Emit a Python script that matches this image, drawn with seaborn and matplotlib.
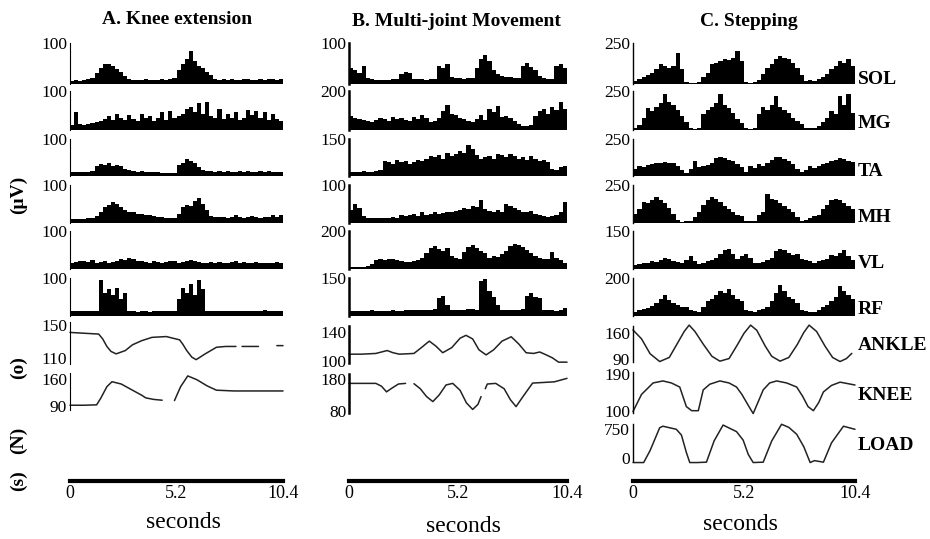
import numpy as np
import matplotlib.pyplot as plt
import seaborn as sns

sns.set_theme(style="white")
plt.rcParams['font.family'] = ['Liberation Serif', 'DejaVu Serif']

W, H = 930, 539

# EMG histograms: 52 bins of 0.2 s over 10.4 s, values in uV
bin_t = np.arange(52) * 0.2 + 0.1

muscles = ['SOL', 'MG', 'TA', 'MH', 'VL', 'RF']

a_sol = [8, 9, 8, 10, 11, 14, 28, 40, 48, 50, 44, 36, 30, 20, 12, 10, 9, 10, 11, 10, 9, 10, 12, 10, 11, 14,
         35, 50, 62, 80, 55, 45, 38, 30, 22, 12, 10, 11, 9, 12, 10, 10, 11, 12, 10, 9, 11, 10, 12, 11, 10, 13]
a_mg = [14, 45, 15, 13, 16, 18, 20, 22, 28, 35, 26, 40, 30, 25, 38, 28, 22, 42, 30, 35, 24, 30, 45, 26, 48, 30,
        35, 40, 55, 60, 45, 70, 40, 72, 35, 30, 55, 28, 40, 32, 45, 26, 30, 50, 38, 48, 30, 45, 25, 40, 28, 22]
a_ta = [10, 10, 11, 12, 11, 13, 28, 32, 30, 34, 28, 30, 26, 18, 16, 14, 12, 13, 11, 10, 10, 10, 8, 8, 8, 9,
        30, 36, 45, 40, 35, 25, 16, 14, 13, 12, 14, 12, 13, 11, 12, 14, 12, 13, 12, 11, 13, 12, 14, 12, 11, 12]
a_mh = [10, 11, 10, 11, 12, 14, 18, 30, 42, 48, 55, 50, 42, 35, 30, 28, 25, 24, 22, 20, 18, 17, 15, 14, 12, 13,
        25, 42, 48, 45, 58, 67, 50, 35, 18, 16, 15, 17, 14, 16, 20, 15, 14, 16, 18, 15, 14, 17, 15, 20, 16, 22]
a_vl = [15, 18, 22, 20, 18, 24, 16, 18, 20, 17, 19, 22, 26, 24, 28, 25, 22, 20, 18, 17, 20, 18, 16, 18, 22, 20,
        17, 18, 20, 24, 22, 18, 16, 17, 19, 16, 18, 17, 15, 18, 20, 16, 18, 17, 15, 18, 16, 15, 17, 16, 18, 17]
a_rf = [12, 13, 12, 14, 13, 12, 14, 95, 60, 70, 55, 75, 45, 60, 14, 12, 11, 13, 12, 11, 12, 13, 14, 12, 13, 12,
        45, 75, 60, 85, 55, 95, 70, 14, 13, 12, 13, 12, 14, 13, 12, 13, 12, 13, 12, 14, 12, 15, 13, 14, 12, 13]

b_sol = [40, 35, 28, 45, 15, 12, 10, 10, 9, 10, 11, 12, 25, 30, 28, 12, 11, 12, 10, 11, 12, 45, 40, 50, 18, 15,
         14, 13, 14, 15, 40, 60, 70, 55, 35, 25, 20, 18, 16, 15, 14, 45, 52, 42, 35, 20, 15, 12, 11, 45, 50, 40]
b_mg = [70, 60, 55, 50, 45, 40, 50, 60, 55, 45, 65, 55, 60, 50, 45, 65, 55, 75, 60, 40, 45, 60, 95, 130, 80, 75,
        60, 55, 45, 40, 55, 75, 50, 110, 90, 125, 65, 70, 60, 45, 30, 20, 18, 25, 70, 95, 110, 80, 120, 100, 145, 110]
b_ta = [15, 18, 15, 20, 16, 18, 20, 25, 60, 55, 50, 65, 55, 60, 50, 55, 65, 60, 70, 80, 75, 85, 70, 95, 80, 90,
        100, 95, 125, 110, 85, 70, 75, 80, 70, 90, 85, 75, 90, 80, 70, 75, 65, 80, 70, 60, 65, 55, 30, 25, 35, 40]
b_mh = [35, 50, 40, 18, 14, 12, 13, 12, 14, 13, 15, 14, 22, 18, 20, 25, 18, 30, 22, 25, 28, 24, 26, 30, 28, 32,
        35, 40, 38, 45, 42, 60, 38, 32, 28, 35, 30, 50, 45, 40, 35, 30, 28, 32, 25, 22, 18, 16, 18, 22, 30, 55]
b_vl = [8, 10, 9, 12, 15, 25, 45, 50, 48, 55, 50, 45, 40, 38, 35, 40, 45, 60, 85, 110, 120, 105, 95, 110, 70, 60,
        55, 90, 115, 125, 110, 95, 85, 60, 70, 65, 80, 95, 120, 130, 125, 115, 100, 85, 70, 60, 55, 50, 90, 60, 45, 30]
b_rf = [18, 20, 19, 21, 20, 22, 19, 20, 21, 20, 22, 20, 21, 23, 22, 24, 22, 25, 24, 23, 28, 70, 80, 45, 25, 22,
        24, 22, 26, 28, 25, 140, 145, 100, 75, 45, 25, 22, 24, 25, 23, 26, 80, 90, 75, 70, 25, 22, 24, 20, 22, 30]

c_sol = [20, 30, 40, 55, 70, 90, 120, 110, 100, 110, 190, 90, 10, 8, 8, 12, 45, 70, 120, 130, 140, 150, 145, 160,
         200, 140, 10, 8, 10, 25, 60, 100, 120, 150, 170, 160, 150, 130, 100, 55, 20, 25, 20, 30, 45, 60, 90, 110,
         140, 130, 150, 110]
c_mg = [15, 30, 80, 140, 120, 150, 170, 230, 180, 160, 130, 90, 50, 10, 8, 10, 100, 130, 150, 170, 230, 160, 140,
        110, 70, 45, 10, 8, 12, 100, 150, 130, 160, 220, 150, 130, 110, 80, 60, 40, 12, 10, 15, 25, 50, 80, 120, 100,
        220, 160, 230, 110]
c_ta = [50, 70, 60, 75, 80, 85, 90, 95, 90, 85, 70, 40, 20, 45, 100, 60, 70, 75, 90, 120, 130, 120, 110, 100, 80,
        60, 30, 70, 55, 80, 70, 90, 110, 125, 130, 115, 100, 80, 50, 30, 40, 70, 55, 65, 80, 90, 100, 110, 120, 115,
        100, 95]
c_mh = [60, 90, 140, 130, 150, 170, 150, 130, 100, 60, 20, 8, 10, 15, 40, 70, 120, 150, 170, 160, 140, 110, 90, 70,
        55, 45, 15, 10, 12, 50, 70, 190, 160, 150, 130, 110, 90, 70, 40, 15, 20, 30, 45, 55, 90, 120, 150, 160, 150,
        130, 110, 90]
c_vl = [15, 20, 25, 22, 30, 28, 35, 45, 40, 30, 28, 25, 35, 50, 30, 20, 25, 30, 35, 45, 60, 75, 80, 60, 40, 50, 60,
        45, 25, 22, 28, 35, 45, 70, 80, 75, 65, 55, 60, 40, 35, 30, 25, 30, 35, 40, 55, 50, 65, 75, 50, 35]
c_rf = [20, 30, 35, 40, 55, 70, 90, 110, 85, 70, 60, 50, 45, 30, 25, 20, 50, 80, 90, 110, 130, 120, 140, 110, 90,
        80, 30, 25, 20, 30, 35, 50, 80, 120, 165, 130, 100, 90, 70, 30, 25, 20, 22, 30, 45, 60, 80, 100, 160, 130,
        110, 90]

a_ymax = [100, 100, 100, 100, 100, 100]
b_ymax = [100, 200, 150, 100, 200, 150]
c_ymax = [250, 250, 250, 250, 150, 200]

# joint angles (deg) and load (N); nan = gap in the trace
a_ankle_t = [0, 0.7, 1.4, 1.6, 1.8, 2.0, 2.25, 2.7, 3.05, 3.5, 4.0, 4.7, 5.35, 5.5, 5.7, 5.95, 6.16, 6.6, 7.15,
             7.6, 8.1, 8.3, 8.4, 9.0, 9.2, 9.35, 9.9, 10.0, 10.1, 10.4]
a_ankle_v = [141, 140, 139, 133, 124, 118, 115, 119, 126, 131, 135, 136, 132, 127, 119, 111, 108, 115, 123,
             124, 124, np.nan, 124, 124, 124, np.nan, 124, np.nan, 125, 125]
a_knee_t = [0, 0.7, 1.3, 1.5, 1.8, 2.05, 2.5, 3.05, 3.5, 3.7, 4.1, 4.5, 4.8, 5.1, 5.4, 5.75, 6.2, 6.7, 7.15,
            8.0, 9.0, 10.4]
a_knee_v = [92, 92, 93, 110, 140, 153, 147, 131, 118, 111, 107, 105, np.nan, 104, 140, 168, 158, 142, 131,
            129, 129, 129]

b_ankle_t = [0, 0.6, 1.28, 1.55, 1.82, 2.1, 2.4, 3.1, 3.45, 3.83, 4.15, 4.47, 4.9, 5.3, 5.58, 5.9, 6.2, 6.54,
             6.9, 7.3, 7.74, 8.1, 8.45, 8.8, 9.1, 9.41, 9.7, 10.0, 10.4]
b_ankle_v = [109, 109, 110, 112, 114, 111, 109, 110, 118, 127, 120, 111, 118, 131, 135, 130, 115, 108, 115, 127,
             133, 123, 111, 110, 112, 108, 104, 98, 98]
b_knee_t = [0, 1.28, 1.55, 1.79, 2.05, 2.36, 2.7, 2.9, 3.1, 3.4, 3.7, 4.0, 4.3, 4.63, 4.95, 5.3, 5.6, 5.9, 6.15,
            6.3, 6.4, 6.5, 6.6, 7.0, 7.4, 7.7, 7.97, 8.3, 8.76, 9.3, 9.8, 10.4]
b_knee_v = [167, 167, 158, 140, 152, 165, 167, np.nan, 166, 150, 125, 109, 130, 162, 167, 145, 105, 84, 100, 125,
            np.nan, 150, 165, 167, 150, 115, 93, 125, 168, 170, 172, 183]

c_ankle_t = [0, 0.4, 0.8, 1.25, 1.7, 2.1, 2.4, 2.63, 2.9, 3.3, 3.7, 4.07, 4.5, 4.9, 5.2, 5.51, 5.8, 6.2, 6.5,
             6.89, 7.3, 7.7, 8.0, 8.25, 8.6, 9.0, 9.35, 9.7, 10.0, 10.25]
c_ankle_v = [169, 145, 105, 84, 95, 135, 165, 182, 165, 130, 98, 85, 92, 130, 160, 182, 168, 125, 98, 85, 95, 130,
             162, 182, 165, 125, 95, 84, 92, 106]
c_knee_t = [0, 0.4, 0.94, 1.4, 1.8, 2.19, 2.5, 2.75, 3.06, 3.29, 3.6, 4.07, 4.5, 4.85, 5.1, 5.4, 5.63, 5.85, 6.1,
            6.4, 6.73, 7.2, 7.67, 7.95, 8.2, 8.45, 8.7, 8.92, 9.3, 9.7, 10.4]
c_knee_v = [98, 140, 168, 173, 168, 158, 110, 100, 100, 151, 165, 173, 168, 158, 140, 113, 93, 120, 151, 168, 173,
            168, 158, 135, 110, 100, 120, 146, 162, 170, 163]
c_load_t = [0, 0.5, 0.8, 1.25, 1.4, 2.03, 2.27, 2.5, 2.66, 3.0, 3.44, 3.8, 4.22, 4.85, 5.16, 5.4, 5.63, 6.1, 6.5,
            6.96, 7.3, 7.67, 8.0, 8.3, 8.5, 8.92, 9.3, 9.86, 10.4]
c_load_v = [-110, -110, 200, 790, 830, 750, 600, 150, -110, -110, -100, 450, 860, 690, 470, 100, -110, -100, 450,
            880, 800, 620, 300, -110, -60, -100, 400, 830, 750]

time_ticks = [0, 5.2, 10.4]
time_labels = ['0', '5.2', '10.4']

fig = plt.figure(figsize=(W / 100, H / 100), dpi=100)


def px_axes(left, top, right, bottom):
    return fig.add_axes([left / W, 1 - bottom / H, (right - left) / W, (bottom - top) / H])


def clean(ax, spine_w):
    for s in ['top', 'right', 'bottom']:
        ax.spines[s].set_visible(False)
    ax.spines['left'].set_color('black')
    ax.spines['left'].set_linewidth(spine_w)
    ax.set_xlim(0, 10.4)
    ax.set_xticks([])
    ax.set_xlabel('')
    ax.set_ylabel('')
    ax.tick_params(axis='y', length=0, pad=2, labelsize=12.5, colors='black')
    ax.patch.set_alpha(0)


cols = [
    dict(x0=70, x1=283, emg=[a_sol, a_mg, a_ta, a_mh, a_vl, a_rf], ymax=a_ymax, sw=0.8),
    dict(x0=349, x1=567, emg=[b_sol, b_mg, b_ta, b_mh, b_vl, b_rf], ymax=b_ymax, sw=1.8),
    dict(x0=633, x1=855, emg=[c_sol, c_mg, c_ta, c_mh, c_vl, c_rf], ymax=c_ymax, sw=1.0),
]
emg_top = [43, 91, 139, 185, 231, 278]
emg_bot = [84, 130, 176, 223, 269, 316]

for col in cols:
    for i, vals in enumerate(col['emg']):
        ax = px_axes(col['x0'], emg_top[i], col['x1'], emg_bot[i])
        sns.histplot(x=bin_t, weights=vals, binwidth=0.2, binrange=(0, 10.4), color='black',
                     alpha=1, linewidth=0, ax=ax)
        clean(ax, col['sw'])
        ax.set_ylim(0, col['ymax'][i])
        ax.set_yticks([col['ymax'][i]])
        ax.set_yticklabels([str(col['ymax'][i])])


def trace_axes(col, top, bot, v_hi, p_hi, v_lo, p_lo, t, v):
    ax = px_axes(col['x0'], top, col['x1'], bot)
    scale = (v_hi - v_lo) / (p_lo - p_hi)
    ax.plot(t, v, color='#222222', lw=1.1, clip_on=False)
    clean(ax, col['sw'])
    ax.set_ylim(v_lo - (bot - p_lo) * scale, v_hi + (p_hi - top) * scale)
    ax.set_yticks([v_lo, v_hi])
    ax.set_yticklabels([str(v_lo), str(v_hi)])


trace_axes(cols[0], 322, 364, 150, 325, 110, 358, a_ankle_t, a_ankle_v)
trace_axes(cols[0], 373, 410, 160, 379, 90, 406, a_knee_t, a_knee_v)
trace_axes(cols[1], 326, 363, 140, 331.7, 100, 360.7, b_ankle_t, b_ankle_v)
trace_axes(cols[1], 374, 413, 180, 379.3, 80, 410.7, b_knee_t, b_knee_v)
trace_axes(cols[2], 326, 362, 160, 333.3, 90, 359.3, c_ankle_t, c_ankle_v)
trace_axes(cols[2], 372, 413, 190, 374, 100, 410.7, c_knee_t, c_knee_v)
trace_axes(cols[2], 424, 461, 750, 429.3, 0, 458.3, c_load_t, c_load_v)

# time axes
for col in cols:
    ax = px_axes(col['x0'], 470, col['x1'], 481)
    for s in ['top', 'right', 'left']:
        ax.spines[s].set_visible(False)
    ax.spines['bottom'].set_linewidth(3)
    ax.spines['bottom'].set_color('black')
    ax.set_xlim(0, 10.4)
    ax.set_yticks([])
    ax.set_xticks(time_ticks)
    ax.set_xticklabels(time_labels)
    ax.tick_params(axis='x', direction='in', length=6, width=1.2, pad=3, labelsize=13, colors='black')
    ax.patch.set_alpha(0)


def ftext(x, y, s, **kw):
    fig.text(x / W, 1 - y / H, s, ha='center', va='center', color='black', **kw)


ftext(177, 20, 'A. Knee extension', fontsize=14, fontweight='bold')
ftext(456, 22, 'B. Multi-joint Movement', fontsize=14, fontweight='bold')
ftext(749, 22, 'C. Stepping', fontsize=14, fontweight='bold')

for x, y in [(183, 522), (463, 526), (740, 524)]:
    ftext(x, y, 'seconds', fontsize=17)

for s, y in [('(μV)', 195), ('(o)', 368), ('(N)', 440), ('(s)', 481)]:
    ftext(18, y, s, fontsize=14, fontweight='bold', rotation=90)

right_labels = muscles + ['ANKLE', 'KNEE', 'LOAD']
right_y = [79, 123, 172, 217, 264, 310, 346, 396, 445]
for s, y in zip(right_labels, right_y):
    fig.text(858 / W, 1 - y / H, s, ha='left', va='center', fontsize=14, fontweight='bold', color='black')

fig.savefig('out.png', dpi=100, facecolor='white')
